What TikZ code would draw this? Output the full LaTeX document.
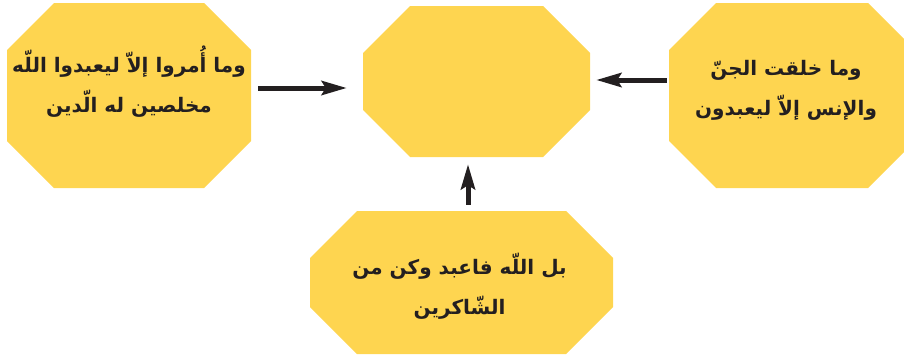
\documentclass[tikz,border=0pt]{standalone}
\usepackage{fontspec}
\TeXXeTstate=1
\newfontfamily\arabicfont[Script=Arabic]{DejaVu Sans}
\usetikzlibrary{arrows.meta}
\definecolor{octyellow}{RGB}{254,213,80}
\definecolor{arrowdark}{RGB}{35,31,32}
\tikzset{
  x=1pt,y=1pt,
  oct/.style={rectangle, draw=none, inner sep=0pt,
    path picture={
      \fill[octyellow]
        ([xshift=47pt]path picture bounding box.south west) --
        ([xshift=-47pt]path picture bounding box.south east) --
        ([yshift=47pt]path picture bounding box.south east) --
        ([yshift=-47pt]path picture bounding box.north east) --
        ([xshift=-47pt]path picture bounding box.north east) --
        ([xshift=47pt]path picture bounding box.north west) --
        ([yshift=-47pt]path picture bounding box.north west) --
        ([yshift=47pt]path picture bounding box.south west) -- cycle;
    }},
  txt/.style={align=center, font=\arabicfont\bfseries\fontsize{20}{40}\selectfont, text=arrowdark},
  arr/.style={line width=5pt, draw=arrowdark, -{Stealth[length=25pt,width=14pt,inset=4pt]}}
}
\begin{document}
\begin{tikzpicture}
\useasboundingbox (0,0) rectangle (904,360);
\node[oct, minimum width=244pt, minimum height=185pt] (L) at (129,264.5) {};
\node[oct, minimum width=227pt, minimum height=151pt] (C) at (476.5,278.5) {};
\node[oct, minimum width=246pt, minimum height=185pt] (R) at (792,264.5) {};
\node[oct, minimum width=303pt, minimum height=143pt] (B) at (461.5,77.5) {};
\node[txt] (Lt) at ([yshift=14pt]L.center) {\beginR وما أُمروا إلاّ ليعبدوا اللّه\endR\\\beginR مخلصين له الّدين\endR};
\node[txt] (Rt) at ([yshift=5pt,xshift=-6pt]R.center) {\beginR وما خلقت الجنّ\endR\\\beginR والإنس إلاّ ليعبدون\endR};
\node[txt] (Bt) at ([yshift=-4pt,xshift=-2pt]B.center) {\beginR بل اللّه فاعبد وكن من\endR\\\beginR الشّاكرين\endR};
\draw[arr, shorten <=7pt, shorten >=16pt] ([yshift=7.5pt]L.east) -- ([yshift=-6.5pt]C.west);
\draw[arr, shorten <=2pt, shorten >=6pt] ([yshift=15.5pt]R.west) -- ([yshift=1.5pt]C.east);
\draw[arr, shorten <=6pt, shorten >=7pt] ([xshift=6.5pt]B.north) -- ([xshift=-8.5pt]C.south);
\end{tikzpicture}
\end{document}
